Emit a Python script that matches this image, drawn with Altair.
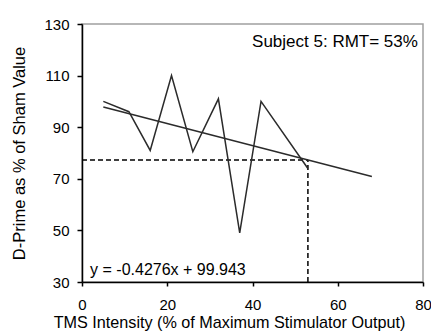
import altair as alt
import pandas as pd

# Data
x_vals = [5, 11, 16, 21, 26, 32, 37, 42, 53]
y_vals = [100, 96, 81, 110, 80.5, 101, 49, 100, 74]
trend_x = [5, 68]
trend_y = [97.8, 70.9]
rmt_x = 53
rmt_y = 77.3
subject_label = "Subject 5: RMT= 53%"
equation_label = "y = -0.4276x + 99.943"

FONT = "Liberation Sans"

df = pd.DataFrame({"x": x_vals, "y": y_vals})
trend = pd.DataFrame({"x": trend_x, "y": trend_y})
hdash = pd.DataFrame({"x": [0, rmt_x], "y": [rmt_y, rmt_y]})
vdash = pd.DataFrame({"x": [rmt_x, rmt_x], "y": [30, rmt_y]})
ann = pd.DataFrame({"x": [78.8], "y": [121.2], "t": [subject_label]})
eq = pd.DataFrame({"x": [1.9], "y": [32.8], "t": [equation_label]})

xscale = alt.Scale(domain=[0, 80], nice=False, zero=False)
yscale = alt.Scale(domain=[30, 130], nice=False, zero=False)

xaxis = alt.Axis(
    values=[0, 20, 40, 60, 80], title="TMS Intensity (% of Maximum  Stimulator Output)",
    grid=False, domainColor="black", domainWidth=1.5, tickColor="black", tickWidth=1.5,
    tickSize=4, labelPadding=11, labelFontSize=15, labelFont=FONT, labelColor="black",
    titleFont=FONT, titleFontSize=16.2, titleFontWeight="normal", titleColor="black",
    titleX=147, titleY=45, titleBaseline="alphabetic", labelFlush=False,
)
yaxis = alt.Axis(
    values=[30, 50, 70, 90, 110, 130], title="D-Prime as % of Sham  Value",
    grid=False, domainColor="black", domainWidth=1.5, tickColor="black", tickWidth=1.5,
    tickSize=5, labelPadding=8, labelFontSize=15, labelFont=FONT, labelColor="black",
    titleFont=FONT, titleFontSize=16.5, titleFontWeight="normal", titleColor="black",
    titleX=-58, titleY=129, titleBaseline="alphabetic", labelFlush=False,
)

X = alt.X("x:Q", scale=xscale, axis=xaxis)
Y = alt.Y("y:Q", scale=yscale, axis=yaxis)

line = alt.Chart(df).mark_line(color="#2b2b2b", strokeWidth=1.5).encode(x=X, y=Y)
tline = alt.Chart(trend).mark_line(color="#2b2b2b", strokeWidth=1.5).encode(x="x:Q", y="y:Q")
h = alt.Chart(hdash).mark_line(color="black", strokeWidth=1.5, strokeDash=[5, 3]).encode(x="x:Q", y="y:Q")
v = alt.Chart(vdash).mark_line(color="black", strokeWidth=1.5, strokeDash=[5, 3]).encode(x="x:Q", y="y:Q")
t1 = alt.Chart(ann).mark_text(align="right", baseline="alphabetic", font=FONT, fontSize=17, color="black").encode(
    x="x:Q", y="y:Q", text="t:N")
t2 = alt.Chart(eq).mark_text(align="left", baseline="alphabetic", font=FONT, fontSize=16, color="black").encode(
    x="x:Q", y="y:Q", text="t:N")

chart = alt.layer(h, v, tline, line, t1, t2).properties(
    width=341, height=258,
    autosize=alt.AutoSizeParams(type="none"),
    padding={"left": 82, "top": 24, "right": 8, "bottom": 49},
    background="white",
).configure_view(stroke="#a0a0a0", strokeWidth=1.5)

chart.save("out.html", embed_options={"renderer": "svg", "actions": False})
